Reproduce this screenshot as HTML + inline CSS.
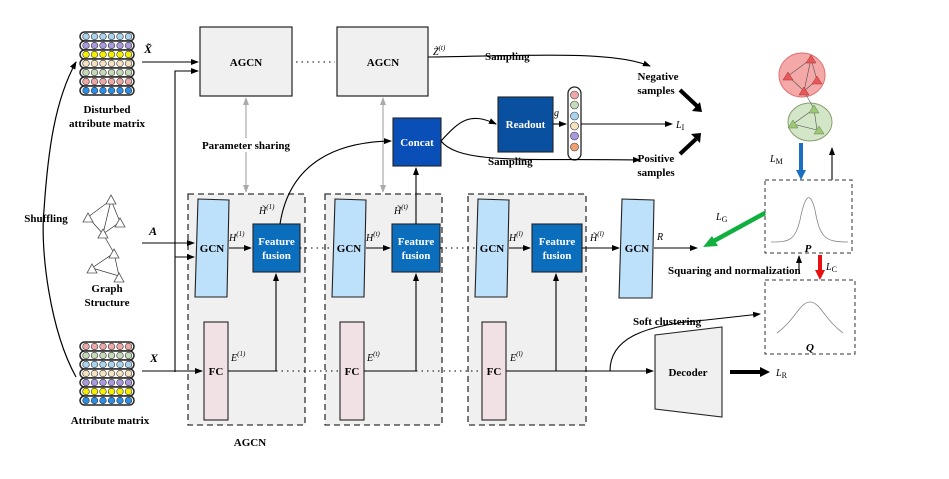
<!DOCTYPE html>
<html><head><meta charset="utf-8"><style>
body{margin:0;background:#fff}
text{font-family:"Liberation Serif",serif}
.b{font-weight:bold;font-size:11px}
.w{fill:#fff;font-weight:bold;font-size:11px}
.i{font-style:italic;font-size:10px}
</style></head><body>
<svg width="949" height="474" viewBox="0 0 949 474" xmlns="http://www.w3.org/2000/svg">
<defs>
<marker id="a" markerWidth="8" markerHeight="8" refX="7" refY="4" orient="auto" markerUnits="userSpaceOnUse"><path d="M0,1 L8,4 L0,7z" fill="#000"/></marker>
<marker id="g" markerWidth="8" markerHeight="8" refX="7" refY="4" orient="auto" markerUnits="userSpaceOnUse"><path d="M0,1 L8,4 L0,7z" fill="#aaa"/></marker>
<marker id="gs" markerWidth="8" markerHeight="8" refX="1" refY="4" orient="auto" markerUnits="userSpaceOnUse"><path d="M8,1 L0,4 L8,7z" fill="#aaa"/></marker>
<g id="tri"><path d="M0,-5 L5,4 L-5,4z" fill="#fff" stroke="#555" stroke-width="0.8"/></g>
</defs>

<g>
<g stroke="#222" stroke-width="1.5">
<rect x="80" y="32" width="54" height="9" rx="4.5" fill="#fff"/><rect x="80" y="41" width="54" height="9" rx="4.5" fill="#fff"/><rect x="80" y="50" width="54" height="9" rx="4.5" fill="#fff"/><rect x="80" y="59" width="54" height="9" rx="4.5" fill="#fff"/><rect x="80" y="68" width="54" height="9" rx="4.5" fill="#fff"/><rect x="80" y="77" width="54" height="9" rx="4.5" fill="#fff"/><rect x="80" y="86" width="54" height="9" rx="4.5" fill="#fff"/>
<rect x="80" y="342" width="54" height="9" rx="4.5" fill="#fff"/><rect x="80" y="351" width="54" height="9" rx="4.5" fill="#fff"/><rect x="80" y="360" width="54" height="9" rx="4.5" fill="#fff"/><rect x="80" y="369" width="54" height="9" rx="4.5" fill="#fff"/><rect x="80" y="378" width="54" height="9" rx="4.5" fill="#fff"/><rect x="80" y="387" width="54" height="9" rx="4.5" fill="#fff"/><rect x="80" y="396" width="54" height="9" rx="4.5" fill="#fff"/>
</g>
<g stroke="#333" stroke-width="0.6">
<g fill="#a8d4f0"><circle cx="86" cy="36.5" r="3.3"/><circle cx="94.5" cy="36.5" r="3.3"/><circle cx="103" cy="36.5" r="3.3"/><circle cx="111.5" cy="36.5" r="3.3"/><circle cx="120" cy="36.5" r="3.3"/><circle cx="128.5" cy="36.5" r="3.3"/></g>
<g fill="#a99ae0"><circle cx="86" cy="45.5" r="3.3"/><circle cx="94.5" cy="45.5" r="3.3"/><circle cx="103" cy="45.5" r="3.3"/><circle cx="111.5" cy="45.5" r="3.3"/><circle cx="120" cy="45.5" r="3.3"/><circle cx="128.5" cy="45.5" r="3.3"/></g>
<g fill="#f5f000"><circle cx="86" cy="54.5" r="3.3"/><circle cx="94.5" cy="54.5" r="3.3"/><circle cx="103" cy="54.5" r="3.3"/><circle cx="111.5" cy="54.5" r="3.3"/><circle cx="120" cy="54.5" r="3.3"/><circle cx="128.5" cy="54.5" r="3.3"/></g>
<g fill="#f5e2c0"><circle cx="86" cy="63.5" r="3.3"/><circle cx="94.5" cy="63.5" r="3.3"/><circle cx="103" cy="63.5" r="3.3"/><circle cx="111.5" cy="63.5" r="3.3"/><circle cx="120" cy="63.5" r="3.3"/><circle cx="128.5" cy="63.5" r="3.3"/></g>
<g fill="#c6d9b8"><circle cx="86" cy="72.5" r="3.3"/><circle cx="94.5" cy="72.5" r="3.3"/><circle cx="103" cy="72.5" r="3.3"/><circle cx="111.5" cy="72.5" r="3.3"/><circle cx="120" cy="72.5" r="3.3"/><circle cx="128.5" cy="72.5" r="3.3"/></g>
<g fill="#efa8a8"><circle cx="86" cy="81.5" r="3.3"/><circle cx="94.5" cy="81.5" r="3.3"/><circle cx="103" cy="81.5" r="3.3"/><circle cx="111.5" cy="81.5" r="3.3"/><circle cx="120" cy="81.5" r="3.3"/><circle cx="128.5" cy="81.5" r="3.3"/></g>
<g fill="#2a8ee8"><circle cx="86" cy="90.5" r="3.3"/><circle cx="94.5" cy="90.5" r="3.3"/><circle cx="103" cy="90.5" r="3.3"/><circle cx="111.5" cy="90.5" r="3.3"/><circle cx="120" cy="90.5" r="3.3"/><circle cx="128.5" cy="90.5" r="3.3"/></g>
<g fill="#efa8a8"><circle cx="86" cy="346.5" r="3.3"/><circle cx="94.5" cy="346.5" r="3.3"/><circle cx="103" cy="346.5" r="3.3"/><circle cx="111.5" cy="346.5" r="3.3"/><circle cx="120" cy="346.5" r="3.3"/><circle cx="128.5" cy="346.5" r="3.3"/></g>
<g fill="#c6d9b8"><circle cx="86" cy="355.5" r="3.3"/><circle cx="94.5" cy="355.5" r="3.3"/><circle cx="103" cy="355.5" r="3.3"/><circle cx="111.5" cy="355.5" r="3.3"/><circle cx="120" cy="355.5" r="3.3"/><circle cx="128.5" cy="355.5" r="3.3"/></g>
<g fill="#a8d4f0"><circle cx="86" cy="364.5" r="3.3"/><circle cx="94.5" cy="364.5" r="3.3"/><circle cx="103" cy="364.5" r="3.3"/><circle cx="111.5" cy="364.5" r="3.3"/><circle cx="120" cy="364.5" r="3.3"/><circle cx="128.5" cy="364.5" r="3.3"/></g>
<g fill="#f5e2c0"><circle cx="86" cy="373.5" r="3.3"/><circle cx="94.5" cy="373.5" r="3.3"/><circle cx="103" cy="373.5" r="3.3"/><circle cx="111.5" cy="373.5" r="3.3"/><circle cx="120" cy="373.5" r="3.3"/><circle cx="128.5" cy="373.5" r="3.3"/></g>
<g fill="#a99ae0"><circle cx="86" cy="382.5" r="3.3"/><circle cx="94.5" cy="382.5" r="3.3"/><circle cx="103" cy="382.5" r="3.3"/><circle cx="111.5" cy="382.5" r="3.3"/><circle cx="120" cy="382.5" r="3.3"/><circle cx="128.5" cy="382.5" r="3.3"/></g>
<g fill="#f5f000"><circle cx="86" cy="391.5" r="3.3"/><circle cx="94.5" cy="391.5" r="3.3"/><circle cx="103" cy="391.5" r="3.3"/><circle cx="111.5" cy="391.5" r="3.3"/><circle cx="120" cy="391.5" r="3.3"/><circle cx="128.5" cy="391.5" r="3.3"/></g>
<g fill="#2a8ee8"><circle cx="86" cy="400.5" r="3.3"/><circle cx="94.5" cy="400.5" r="3.3"/><circle cx="103" cy="400.5" r="3.3"/><circle cx="111.5" cy="400.5" r="3.3"/><circle cx="120" cy="400.5" r="3.3"/><circle cx="128.5" cy="400.5" r="3.3"/></g>
</g>
</g>
<text x="107" y="113" class="b" text-anchor="middle">Disturbed</text>
<text x="107" y="127" class="b" text-anchor="middle">attribute matrix</text>
<text x="110" y="424" class="b" text-anchor="middle">Attribute matrix</text>
<text x="107" y="292" class="b" text-anchor="middle">Graph</text>
<text x="107" y="306" class="b" text-anchor="middle">Structure</text>
<text x="46" y="222" class="b" text-anchor="middle">Shuffling</text>
<path d="M76,377 C50,330 40,250 44,210 C48,150 55,100 76,62" fill="none" stroke="#000" stroke-width="1.2" marker-end="url(#a)"/>

<g stroke="#333" stroke-width="0.7" fill="none">
<path d="M111,200 L88,217 L103,234 L111,200 L120,222 L103,234 L114,253 L92,268 L119,276 L114,253 M111,200 L103,234"/>
</g>
<use href="#tri" x="111" y="200"/><use href="#tri" x="88" y="218"/><use href="#tri" x="120" y="223"/><use href="#tri" x="103" y="234"/><use href="#tri" x="114" y="254"/><use href="#tri" x="92" y="269"/><use href="#tri" x="119" y="278"/>

<g fill="#f0f0f0" stroke="#333" stroke-width="1.3" stroke-dasharray="6,4">
<rect x="188" y="194" width="117" height="231"/>
<rect x="325" y="194" width="117" height="231"/>
<rect x="468" y="194" width="118" height="231"/>
</g>
<text x="250" y="446" class="b" text-anchor="middle">AGCN</text>

<rect x="200" y="27" width="92" height="69" fill="#f0f0f0" stroke="#222" stroke-width="1.2"/>
<text x="246" y="66" class="b" text-anchor="middle">AGCN</text>
<rect x="337" y="27" width="91" height="69" fill="#f0f0f0" stroke="#222" stroke-width="1.2"/>
<text x="383" y="66" class="b" text-anchor="middle">AGCN</text>
<line x1="296" y1="62" x2="335" y2="62" stroke="#000" stroke-dasharray="1.5,4"/>

<line x1="246" y1="98" x2="246" y2="192" stroke="#aaa" stroke-width="1.2" marker-start="url(#gs)" marker-end="url(#g)"/>
<line x1="383" y1="98" x2="383" y2="192" stroke="#aaa" stroke-width="1.2" marker-start="url(#gs)" marker-end="url(#g)"/>
<rect x="196" y="138" width="100" height="14" fill="#fff"/>
<text x="246" y="149" class="b" text-anchor="middle">Parameter sharing</text>

<g fill="#bde0fb" stroke="#222" stroke-width="1.1">
<path d="M198,199 L229,200 L227,297 L195,297z"/>
<path d="M335,199 L366,200 L364,297 L332,297z"/>
<path d="M478,199 L509,200 L507,297 L475,297z"/>
<path d="M622,199 L654,200 L652,298 L619,298z"/>
</g>
<text x="212" y="252" class="b" text-anchor="middle">GCN</text>
<text x="349" y="252" class="b" text-anchor="middle">GCN</text>
<text x="492" y="252" class="b" text-anchor="middle">GCN</text>
<text x="637" y="252" class="b" text-anchor="middle">GCN</text>

<g fill="#f2e1e4" stroke="#222" stroke-width="1.1">
<rect x="204" y="322" width="24" height="98"/><rect x="340" y="322" width="24" height="98"/><rect x="482" y="322" width="24" height="98"/>
</g>
<text x="216" y="375" class="b" text-anchor="middle">FC</text>
<text x="352" y="375" class="b" text-anchor="middle">FC</text>
<text x="494" y="375" class="b" text-anchor="middle">FC</text>

<g fill="#0b6ebd" stroke="#222" stroke-width="1.1">
<rect x="253" y="224" width="47" height="48"/><rect x="392" y="224" width="48" height="48"/><rect x="532" y="224" width="50" height="48"/>
</g>
<text x="276.5" y="245" class="w" text-anchor="middle">Feature</text><text x="276.5" y="259" class="w" text-anchor="middle">fusion</text>
<text x="416" y="245" class="w" text-anchor="middle">Feature</text><text x="416" y="259" class="w" text-anchor="middle">fusion</text>
<text x="557" y="245" class="w" text-anchor="middle">Feature</text><text x="557" y="259" class="w" text-anchor="middle">fusion</text>

<rect x="393" y="118" width="48" height="48" fill="#0a4fb8" stroke="#222" stroke-width="1.1"/>
<text x="417" y="146" class="w" text-anchor="middle">Concat</text>
<rect x="498" y="97" width="55" height="55" fill="#0a50a0" stroke="#222" stroke-width="1.1"/>
<text x="525.5" y="128" class="w" text-anchor="middle">Readout</text>
<rect x="568" y="87" width="13" height="73" rx="6.5" fill="#fff" stroke="#222" stroke-width="1.3"/>
<g stroke="#333" stroke-width="0.6"><circle cx="574.5" cy="95" r="4" fill="#efa8a8"/><circle cx="574.5" cy="105" r="4" fill="#c6d9b8"/><circle cx="574.5" cy="116" r="4" fill="#a8d4f0"/><circle cx="574.5" cy="126" r="4" fill="#f5e2c0"/><circle cx="574.5" cy="136" r="4" fill="#a99ae0"/><circle cx="574.5" cy="147" r="4" fill="#f0a070"/></g>

<g stroke="#000" stroke-width="1.1" fill="none">
<line x1="142" y1="62" x2="198" y2="62" marker-end="url(#a)"/>
<path d="M175,372 L175,71 L198,71" marker-end="url(#a)"/>
<line x1="142" y1="243" x2="194" y2="243" marker-end="url(#a)"/>
<path d="M175,257 L194,257" marker-end="url(#a)"/>
<line x1="142" y1="371" x2="202" y2="371" marker-end="url(#a)"/>
<line x1="229" y1="248" x2="251" y2="248" marker-end="url(#a)"/>
<line x1="366" y1="248" x2="390" y2="248" marker-end="url(#a)"/>
<line x1="509" y1="248" x2="530" y2="248" marker-end="url(#a)"/>
<line x1="582" y1="248" x2="619" y2="248" marker-end="url(#a)"/>
<line x1="654" y1="248" x2="697" y2="248" marker-end="url(#a)"/>
<path d="M228,371 L276,371 L276,274" marker-end="url(#a)"/>
<path d="M364,371 L416,371 L416,274" marker-end="url(#a)"/>
<path d="M506,371 L556,371 L556,274" marker-end="url(#a)"/>
<line x1="556" y1="371" x2="653" y2="371" marker-end="url(#a)"/>
<line x1="416" y1="224" x2="416" y2="168" marker-end="url(#a)"/>
<path d="M280,224 C290,160 340,142 391,141" marker-end="url(#a)"/>
<path d="M441,141 C460,120 470,112 496,124" marker-end="url(#a)"/>
<path d="M441,141 C460,165 530,158 640,160" marker-end="url(#a)"/>
<line x1="553" y1="124" x2="566" y2="124" marker-end="url(#a)"/>
<line x1="581" y1="124" x2="672" y2="124" marker-end="url(#a)"/>
<path d="M428,57 C520,56 610,50 650,66" marker-end="url(#a)"/>
<path d="M610,371 C610,340 640,325 706,320 L760,314" marker-end="url(#a)"/>
<path d="M832,180 L832,148" marker-end="url(#a)"/>
<path d="M799,270 L799,256" marker-end="url(#a)"/>
</g>
<g stroke="#000" stroke-width="1" stroke-dasharray="1.5,4">
<line x1="300" y1="248" x2="332" y2="248"/><line x1="440" y1="248" x2="475" y2="248"/>
<line x1="276" y1="371" x2="338" y2="371"/><line x1="416" y1="371" x2="480" y2="371"/>
</g>
<path d="M680,90 L697,106" stroke="#000" stroke-width="4"/><path d="M692,111 L702,112 L700,102z" fill="#000"/>
<path d="M680,154 L696,139" stroke="#000" stroke-width="4"/><path d="M691,134 L701,133 L700,143z" fill="#000"/>

<path d="M655,335 L722,327 L722,417 L655,409z" fill="#f0f0f0" stroke="#222" stroke-width="1.1"/>
<text x="688" y="376" class="b" text-anchor="middle">Decoder</text>
<line x1="730" y1="372" x2="762" y2="372" stroke="#000" stroke-width="4"/><path d="M760,367 L770,372 L760,377z" fill="#000"/>

<rect x="765" y="180" width="87" height="73" fill="#fff" stroke="#333" stroke-dasharray="4,3"/>
<path d="M771,242 C790,242 795,240 800,220 C805,195 810,190 815,210 C820,238 825,242 848,242" fill="none" stroke="#888" stroke-width="0.8"/>
<text x="808" y="252" class="b" font-style="italic" text-anchor="middle">P</text>
<rect x="765" y="280" width="90" height="74" fill="#fff" stroke="#333" stroke-dasharray="4,3"/>
<path d="M777,333 C795,320 800,302 810,302 C820,302 825,320 843,333" fill="none" stroke="#888" stroke-width="0.8"/>
<text x="810" y="351" class="b" font-style="italic" text-anchor="middle">Q</text>

<ellipse cx="802" cy="75" rx="23" ry="22" fill="#f4a8a8" stroke="#e07070"/>
<ellipse cx="810" cy="122" rx="22" ry="19" fill="#d4e6c8" stroke="#88a070"/>
<g stroke="#555" stroke-width="0.6" fill="none"><path d="M811,59 L788,76 L804,91 L811,59 L817,80 L804,91 L814,109 L793,124 L817,130 L814,109"/></g>
<g fill="#e85858" stroke="#a03030" stroke-width="0.5"><path d="M811,55 L816,63 L806,63z"/><path d="M788,72 L793,80 L783,80z"/><path d="M817,76 L822,84 L812,84z"/><path d="M804,87 L809,95 L799,95z"/></g>
<g fill="#9cc878" stroke="#608040" stroke-width="0.5"><path d="M814,105 L819,113 L809,113z"/><path d="M793,120 L798,128 L788,128z"/><path d="M819,126 L824,134 L814,134z"/></g>

<line x1="801" y1="143" x2="801" y2="172" stroke="#1a6fc0" stroke-width="4"/><path d="M796,170 L801,180 L806,170z" fill="#1a6fc0"/>
<line x1="820" y1="255" x2="820" y2="272" stroke="#e81010" stroke-width="4"/><path d="M815,270 L820,280 L825,270z" fill="#e81010"/>
<line x1="765" y1="213" x2="712" y2="242" stroke="#10b040" stroke-width="4.5"/><path d="M703,247 L712,236 L718,246z" fill="#10b040"/>

<text x="148" y="53" font-size="12" font-weight="bold" font-style="italic" text-anchor="middle">X̃</text>
<text x="153" y="235" font-size="12" font-weight="bold" font-style="italic" text-anchor="middle">A</text>
<text x="154" y="362" font-size="12" font-weight="bold" font-style="italic" text-anchor="middle">X</text>
<text x="433" y="55" class="i">Z̃<tspan font-size="7" dy="-5">(t)</tspan></text>
<text x="485" y="60" class="b">Sampling</text>
<text x="488" y="165" class="b">Sampling</text>
<text x="658" y="80" class="b" text-anchor="middle">Negative</text><text x="656" y="94" class="b" text-anchor="middle">samples</text>
<text x="656" y="162" class="b" text-anchor="middle">Positive</text><text x="656" y="176" class="b" text-anchor="middle">samples</text>
<text x="676" y="128" class="i" font-size="12">L<tspan font-size="8" font-style="normal" dy="2">I</tspan></text>
<text x="554" y="116" class="i">g</text>
<text x="259" y="214" class="i">H̃<tspan font-size="7" dy="-5">(1)</tspan></text>
<text x="394" y="214" class="i">H̃<tspan font-size="7" dy="-5">(t)</tspan></text>
<text x="229" y="241" class="i">H<tspan font-size="7" dy="-5">(1)</tspan></text>
<text x="366" y="241" class="i">H<tspan font-size="7" dy="-5">(t)</tspan></text>
<text x="509" y="241" class="i">H<tspan font-size="7" dy="-5">(l)</tspan></text>
<text x="590" y="241" class="i">H̃<tspan font-size="7" dy="-5">(l)</tspan></text>
<text x="657" y="240" class="i">R</text>
<text x="231" y="361" class="i">E<tspan font-size="7" dy="-5">(1)</tspan></text>
<text x="367" y="361" class="i">E<tspan font-size="7" dy="-5">(t)</tspan></text>
<text x="510" y="361" class="i">E<tspan font-size="7" dy="-5">(l)</tspan></text>
<text x="770" y="162" class="i" font-size="12">L<tspan font-size="8" font-style="normal" dy="2">M</tspan></text>
<text x="716" y="220" class="i" font-size="12">L<tspan font-size="8" font-style="normal" dy="2">G</tspan></text>
<text x="826" y="270" class="i" font-size="12">L<tspan font-size="8" font-style="normal" dy="2">C</tspan></text>
<text x="776" y="376" class="i" font-size="12">L<tspan font-size="8" font-style="normal" dy="2">R</tspan></text>
<text x="668" y="274" class="b">Squaring and normalization</text>
<text x="633" y="325" class="b">Soft clustering</text>
</svg>
</body></html>
